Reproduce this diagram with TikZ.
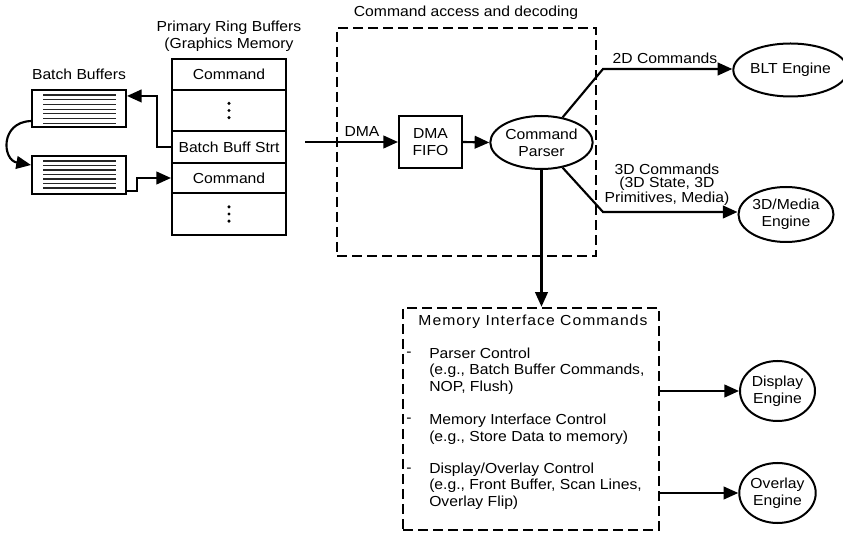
\documentclass[tikz,border=0pt]{standalone}
\usepackage{fontspec}
\setmainfont{Liberation Sans}[FakeStretch=1.08]
\usetikzlibrary{arrows.meta,shapes.geometric,calc}
\begin{document}
\begin{tikzpicture}[x=0.75pt,y=-0.75pt,
  every node/.style={font=\fontsize{10.9}{12.5}\selectfont},
  box/.style={draw,line width=1.5pt,inner sep=0pt,rectangle,align=center},
  ell/.style={draw,line width=1.5pt,ellipse,inner sep=0pt,align=center},
  dbox/.style={draw,line width=1.9pt,dash pattern=on 7.5pt off 3.75pt,inner sep=0pt},
  conn/.style={line width=1.6pt},
  arr/.style={conn,-{Triangle[length=11pt,width=9.5pt]}},
  bline/.style={line width=0.8pt,black!85},
  dot/.style={fill=black}
]
\useasboundingbox (0,0) rectangle (843,534);

% Batch buffers
\node (bbl) at (79,74) {Batch Buffers};
\node[box,minimum width=70.5pt,minimum height=27.75pt] (bb1) at (79,108.5) {};
\node[box,minimum width=70.5pt,minimum height=28.5pt] (bb2) at (79,175) {};
\foreach \i in {0,...,6} {
  \draw[bline] (43,95+\i*4.7) -- (116,95+\i*4.7);
  \draw[bline] (43,161+\i*4.5) -- (116,161+\i*4.5);
}

% Primary ring buffers
\node[align=center,font=\fontsize{10.9}{12.75}\selectfont] (rbt) at (229,36) {Primary Ring Buffers\\(Graphics Memory};
\node[box,minimum width=85.5pt,minimum height=23.25pt] (rb1) at (229,74.5) {Command};
\node[box,minimum width=85.5pt,minimum height=30.75pt] (rb2) at (229,110.5) {};
\node[box,minimum width=85.5pt,minimum height=24pt] (rb3) at (229,147) {Batch Buff Strt};
\node[box,minimum width=85.5pt,minimum height=22.5pt] (rb4) at (229,178) {Command};
\node[box,minimum width=85.5pt,minimum height=31.5pt] (rb5) at (229,214) {};
\foreach \n in {rb2,rb5} {
  \fill[dot] ([yshift=5.4pt]\n.center) circle (1.3pt);
  \fill[dot] (\n.center) circle (1.3pt);
  \fill[dot] ([yshift=-5.4pt]\n.center) circle (1.3pt);
}

\draw[arr] (rb3.west) -- (157,147) |- ([yshift=9.4pt]bb1.east);
\draw[arr] ([yshift=-12pt]bb2.east) -- ++(10,0) |- (rb4.west);
\draw[arr] ([yshift=-9.4pt]bb1.west) .. controls (0,122) and (2,160) .. ([yshift=7.5pt]bb2.west);

% Command access and decoding
\node (cadt) at (466,13) {Command access and decoding};
\node[dbox,minimum width=194.25pt,minimum height=171pt] (cad) at (466.5,142) {};
\node[box,minimum width=47.25pt,minimum height=39pt] (fifo) at (430.5,142) {DMA\\FIFO};
\node[ell,minimum width=66.75pt,minimum height=39.75pt] (parser) at (541.5,142.5) {Command\\Parser};
\coordinate (dmain) at (305,142);
\draw[arr] (dmain) -- (fifo.west);
\node (dmal) at (362,132) {DMA};
\draw[arr] (fifo.east) -- (parser.west);

% Engines
\node[ell,minimum width=72.75pt,minimum height=39.75pt] (blt) at (790.5,70) {BLT Engine};
\node[ell,minimum width=69pt,minimum height=41.25pt] (td) at (786,214.5) {3D/Media\\Engine};
\coordinate (k1) at (603,69);
\coordinate (k2) at (603,212);
\draw[arr] (parser.50) -- (k1) -- (k1 -| blt.west);
\draw[arr] (parser.-50) -- (k2) -- (k2 -| td.west);
\node (l2d) at (665,58) {2D Commands};
\node[align=center,font=\fontsize{10.9}{9.5}\selectfont] (l3d) at (667,185) {3D Commands\\(3D State, 3D\\Primitives, Media)};

% Memory interface commands
\node[dbox,minimum width=192pt,minimum height=166.5pt] (mem) at (531,419) {};
\draw[arr] (parser.south) -- (parser.south |- mem.north);
\node[font=\fontsize{10.9}{12.5}\selectfont\addfontfeature{LetterSpace=7}] (memt) at (533,322) {Memory Interface Commands};
\node (d1) at (409,354) {-};
\node (d2) at (409,420) {-};
\node (d3) at (409,470) {-};
\node[anchor=west,align=left,inner sep=0pt] (i1) at (429,371) {Parser Control\\(e.g., Batch Buffer Commands,\\NOP, Flush)};
\node[anchor=west,align=left,inner sep=0pt] (i2) at (429,429) {Memory Interface Control\\(e.g., Store Data to memory)};
\node[anchor=west,align=left,inner sep=0pt] (i3) at (429,486) {Display/Overlay Control\\(e.g., Front Buffer, Scan Lines,\\Overlay Flip)};

\node[ell,minimum width=56.25pt,minimum height=45pt] (disp) at (777.5,391) {Display\\Engine};
\node[ell,minimum width=56.25pt,minimum height=45pt] (ovl) at (777.5,493) {Overlay\\Engine};
\draw[arr] (mem.east |- disp) -- (disp.west);
\draw[arr] (mem.east |- ovl) -- (ovl.west);
\end{tikzpicture}
\end{document}
